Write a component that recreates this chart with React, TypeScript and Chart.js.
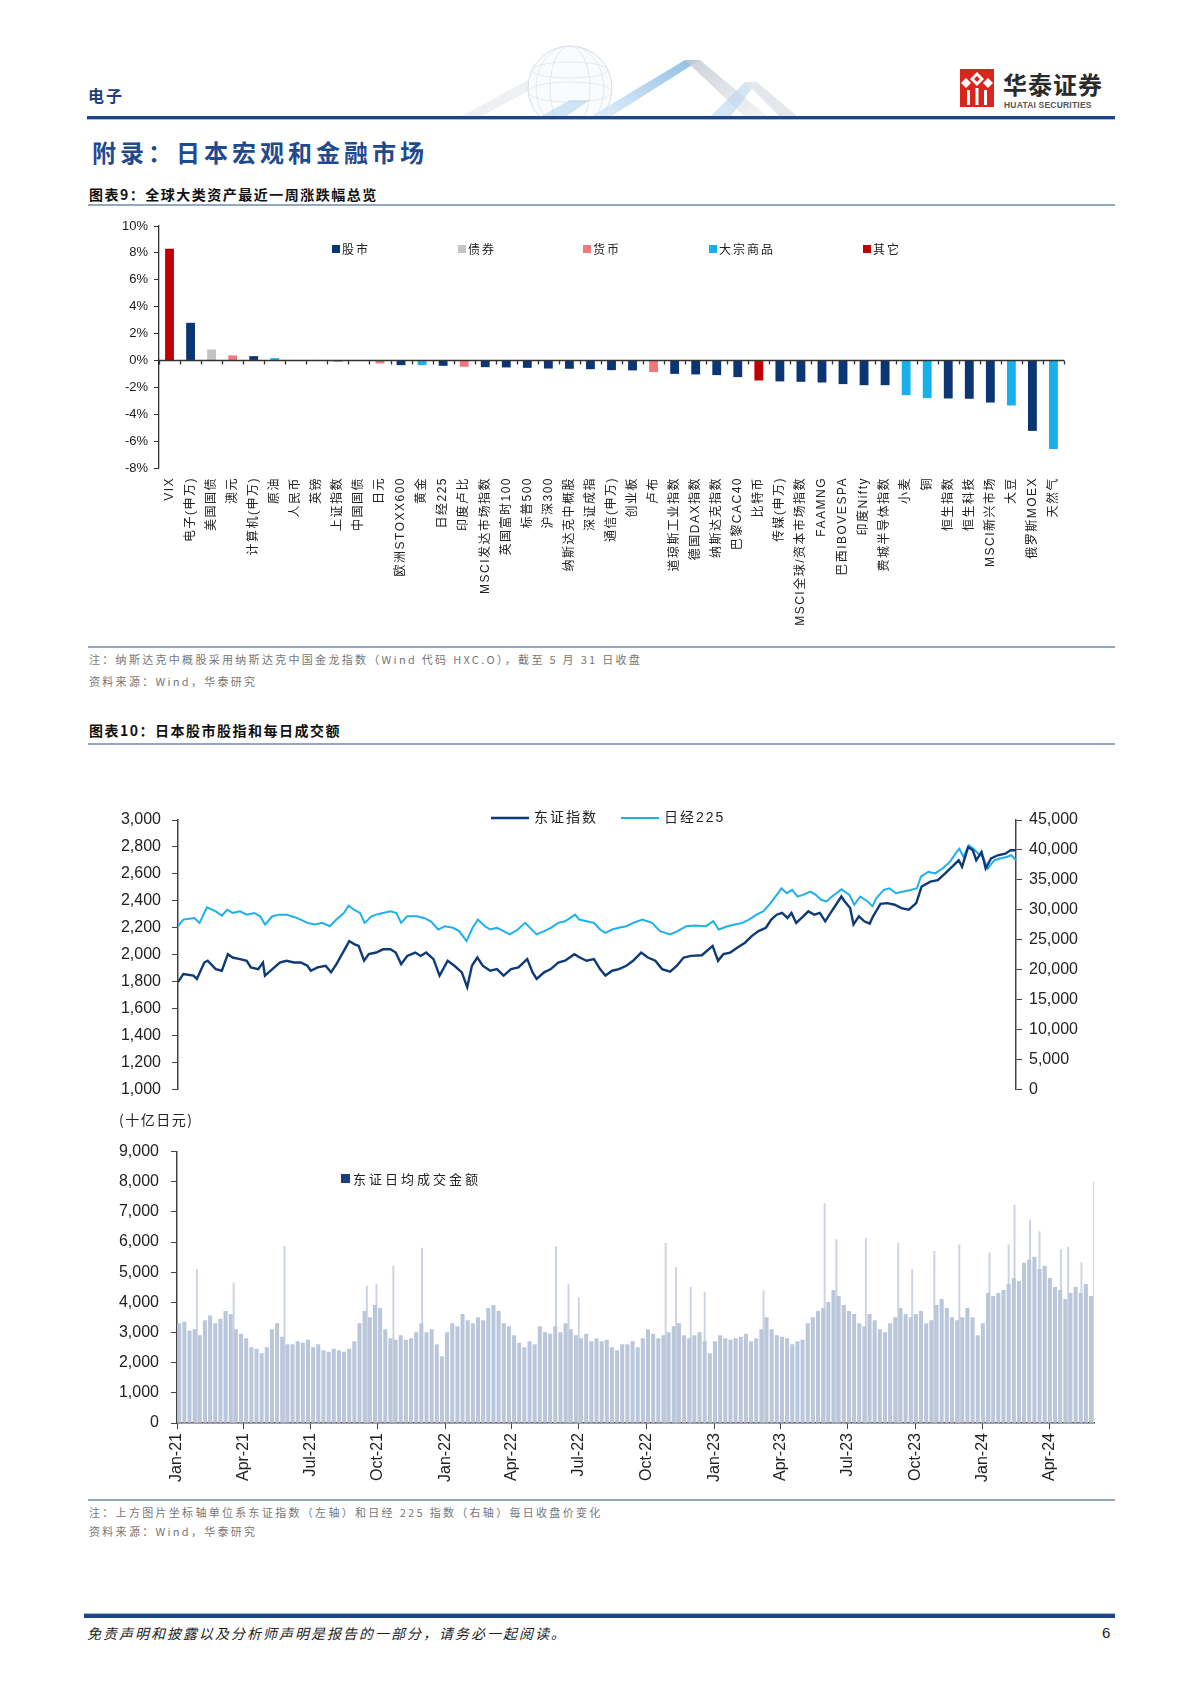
import React, { useEffect, useRef } from "react";
import { Chart, registerables } from "chart.js";

Chart.register(...registerables);

// ---------------- data ----------------
const ASSET_LABELS = [
  "VIX", "电子(申万)", "美国国债", "澳元", "计算机(申万)", "原油", "人民币", "英镑", "上证指数", "中国国债",
  "日元", "欧洲STOXX600", "黄金", "日经225", "印度卢比", "MSCI发达市场指数", "英国富时100", "标普500", "沪深300", "纳斯达克中概股",
  "深证成指", "通信(申万)", "创业板", "卢布", "道琼斯工业指数", "德国DAX指数", "纳斯达克指数", "巴黎CAC40", "比特币", "传媒(申万)",
  "MSCI全球/资本市场指数", "FAAMNG", "巴西IBOVESPA", "印度Nifty", "费城半导体指数", "小麦", "铜", "恒生指数", "恒生科技", "MSCI新兴市场",
  "大豆", "俄罗斯MOEX", "天然气",
];
const ASSET_CHANGES = [
  8.3, 2.8, 0.82, 0.37, 0.32, 0.17, 0.03, 0.02, -0.07, -0.05,
  -0.22, -0.35, -0.35, -0.4, -0.47, -0.5, -0.52, -0.55, -0.6, -0.62,
  -0.65, -0.72, -0.74, -0.87, -1.0, -1.04, -1.09, -1.24, -1.49, -1.56,
  -1.59, -1.64, -1.76, -1.84, -1.84, -2.58, -2.8, -2.83, -2.85, -3.13,
  -3.35, -5.24, -6.58,
];
const ASSET_CLASS = [
  "其它", "股市", "债券", "货币", "股市", "大宗商品", "货币", "货币", "股市", "债券",
  "货币", "股市", "大宗商品", "股市", "货币", "股市", "股市", "股市", "股市", "股市",
  "股市", "股市", "股市", "货币", "股市", "股市", "股市", "股市", "其它", "股市",
  "股市", "股市", "股市", "股市", "股市", "大宗商品", "大宗商品", "股市", "股市", "股市",
  "大宗商品", "股市", "大宗商品",
];
const CLASS_NAMES = ["股市", "债券", "货币", "大宗商品", "其它"];

const TOPIX_CLOSE: [string, number][] = [
  ["2021-01-04", 1796], ["2021-01-12", 1857], ["2021-01-27", 1845], ["2021-02-01", 1820], ["2021-02-12", 1942],
  ["2021-02-17", 1955], ["2021-03-01", 1893], ["2021-03-10", 1881], ["2021-03-19", 2004], ["2021-03-26", 1979],
  ["2021-04-06", 1967], ["2021-04-16", 1955], ["2021-04-22", 1906], ["2021-05-03", 1893], ["2021-05-10", 1942],
  ["2021-05-13", 1845], ["2021-05-24", 1893], ["2021-06-04", 1942], ["2021-06-14", 1955], ["2021-06-25", 1942],
  ["2021-07-05", 1942], ["2021-07-15", 1918], ["2021-07-20", 1881], ["2021-07-30", 1906], ["2021-08-11", 1918],
  ["2021-08-19", 1869], ["2021-08-27", 1930], ["2021-09-07", 2028], ["2021-09-15", 2101], ["2021-09-23", 2077],
  ["2021-09-29", 2065], ["2021-10-07", 1955], ["2021-10-14", 2004], ["2021-10-25", 2016], ["2021-11-04", 2040],
  ["2021-11-15", 2040], ["2021-11-23", 2016], ["2021-12-01", 1930], ["2021-12-10", 1991], ["2021-12-22", 2016],
  ["2021-12-30", 1991], ["2022-01-07", 2016], ["2022-01-18", 1967], ["2022-01-27", 1845], ["2022-02-08", 1955],
  ["2022-02-18", 1918], ["2022-03-01", 1869], ["2022-03-09", 1759], ["2022-03-16", 1918], ["2022-03-24", 1979],
  ["2022-04-01", 1918], ["2022-04-12", 1881], ["2022-04-22", 1893], ["2022-05-02", 1845], ["2022-05-13", 1893],
  ["2022-05-24", 1906], ["2022-06-06", 1967], ["2022-06-14", 1869], ["2022-06-20", 1820], ["2022-07-01", 1869],
  ["2022-07-11", 1893], ["2022-07-22", 1942], ["2022-08-01", 1955], ["2022-08-15", 2004], ["2022-08-23", 1979],
  ["2022-09-02", 1955], ["2022-09-13", 1967], ["2022-09-22", 1893], ["2022-09-30", 1845], ["2022-10-10", 1881],
  ["2022-10-20", 1893], ["2022-10-31", 1918], ["2022-11-10", 1955], ["2022-11-22", 2016], ["2022-12-02", 1979],
  ["2022-12-13", 1955], ["2022-12-23", 1893], ["2023-01-04", 1874], ["2023-01-14", 1918], ["2023-01-24", 1979],
  ["2023-02-04", 1991], ["2023-02-20", 1996], ["2023-03-08", 2065], ["2023-03-16", 1955], ["2023-03-24", 2004],
  ["2023-04-03", 2016], ["2023-04-14", 2053], ["2023-04-25", 2089], ["2023-05-05", 2138], ["2023-05-15", 2175],
  ["2023-05-26", 2200], ["2023-06-03", 2261], ["2023-06-11", 2297], ["2023-06-19", 2310], ["2023-06-27", 2273],
  ["2023-07-03", 2310], ["2023-07-10", 2236], ["2023-07-18", 2273], ["2023-07-28", 2322], ["2023-08-06", 2297],
  ["2023-08-14", 2310], ["2023-08-22", 2248], ["2023-08-30", 2310], ["2023-09-07", 2371], ["2023-09-15", 2432],
  ["2023-09-20", 2395], ["2023-09-28", 2346], ["2023-10-03", 2224], ["2023-10-11", 2285], ["2023-10-19", 2248],
  ["2023-10-27", 2231], ["2023-11-01", 2285], ["2023-11-12", 2378], ["2023-11-22", 2383], ["2023-12-03", 2371],
  ["2023-12-13", 2346], ["2023-12-24", 2334], ["2024-01-04", 2383], ["2024-01-12", 2506], ["2024-01-25", 2542],
  ["2024-02-05", 2554], ["2024-02-16", 2603], ["2024-02-26", 2652], ["2024-03-07", 2701], ["2024-03-12", 2652],
  ["2024-03-21", 2799], ["2024-03-28", 2775], ["2024-04-02", 2701], ["2024-04-10", 2763], ["2024-04-16", 2640],
  ["2024-04-24", 2714], ["2024-05-04", 2738], ["2024-05-15", 2750], ["2024-05-23", 2775], ["2024-05-31", 2775],
];

const NIKKEI_CLOSE: [string, number][] = [
  ["2021-01-04", 27264], ["2021-01-12", 28370], ["2021-01-28", 28640], ["2021-02-05", 27810], ["2021-02-12", 29470],
  ["2021-02-16", 30400], ["2021-03-01", 29740], ["2021-03-10", 29030], ["2021-03-18", 30010], ["2021-03-26", 29470],
  ["2021-04-06", 29740], ["2021-04-16", 29190], ["2021-04-27", 29470], ["2021-05-06", 28920], ["2021-05-13", 27540],
  ["2021-05-24", 28920], ["2021-06-03", 29190], ["2021-06-14", 29190], ["2021-06-25", 28810], ["2021-07-05", 28370],
  ["2021-07-15", 27820], ["2021-07-26", 27540], ["2021-08-06", 27820], ["2021-08-17", 27260], ["2021-08-27", 28370],
  ["2021-09-07", 29470], ["2021-09-14", 30680], ["2021-09-22", 30010], ["2021-10-01", 29470], ["2021-10-08", 27820],
  ["2021-10-18", 28920], ["2021-10-25", 29190], ["2021-11-04", 29470], ["2021-11-15", 29740], ["2021-11-24", 29470],
  ["2021-12-01", 27820], ["2021-12-10", 28920], ["2021-12-24", 28920], ["2022-01-04", 28640], ["2022-01-14", 28090],
  ["2022-01-25", 26710], ["2022-02-04", 27260], ["2022-02-16", 26990], ["2022-02-25", 26440], ["2022-03-08", 24780],
  ["2022-03-17", 26990], ["2022-03-25", 28370], ["2022-04-04", 27260], ["2022-04-12", 26710], ["2022-04-22", 26990],
  ["2022-05-02", 26440], ["2022-05-11", 25890], ["2022-05-23", 26710], ["2022-06-03", 27820], ["2022-06-15", 26440],
  ["2022-06-20", 25890], ["2022-07-01", 26440], ["2022-07-11", 26990], ["2022-07-22", 27820], ["2022-08-01", 28090],
  ["2022-08-16", 29190], ["2022-08-22", 28370], ["2022-09-02", 28090], ["2022-09-13", 27820], ["2022-09-22", 26710],
  ["2022-09-30", 26160], ["2022-10-10", 26710], ["2022-10-20", 26990], ["2022-10-31", 27260], ["2022-11-10", 27820],
  ["2022-11-24", 28370], ["2022-12-08", 27820], ["2022-12-20", 26440], ["2023-01-04", 25890], ["2023-01-15", 26440],
  ["2023-01-28", 27260], ["2023-02-10", 27370], ["2023-02-26", 27260], ["2023-03-09", 28090], ["2023-03-17", 26710],
  ["2023-03-30", 27260], ["2023-04-10", 27540], ["2023-04-21", 27820], ["2023-05-01", 28370], ["2023-05-12", 29190],
  ["2023-05-22", 29740], ["2023-06-02", 31120], ["2023-06-13", 32770], ["2023-06-18", 33600], ["2023-06-26", 32770],
  ["2023-07-04", 33320], ["2023-07-12", 32220], ["2023-07-20", 32500], ["2023-07-31", 33050], ["2023-08-08", 32500],
  ["2023-08-16", 31670], ["2023-08-24", 31400], ["2023-09-01", 32220], ["2023-09-11", 33050], ["2023-09-15", 33430],
  ["2023-09-27", 32500], ["2023-10-04", 30840], ["2023-10-13", 32220], ["2023-10-24", 31400], ["2023-10-31", 30570],
  ["2023-11-06", 31950], ["2023-11-17", 33320], ["2023-11-25", 33600], ["2023-12-05", 32770], ["2023-12-16", 33050],
  ["2023-12-27", 33320], ["2024-01-05", 33600], ["2024-01-11", 35530], ["2024-01-22", 36350], ["2024-02-01", 36080],
  ["2024-02-12", 36900], ["2024-02-23", 38000], ["2024-03-04", 39660], ["2024-03-08", 40200], ["2024-03-14", 38830],
  ["2024-03-22", 40760], ["2024-03-29", 40200], ["2024-04-05", 39380], ["2024-04-12", 38830], ["2024-04-19", 36900],
  ["2024-04-29", 38280], ["2024-05-07", 38560], ["2024-05-17", 38830], ["2024-05-24", 39110], ["2024-05-31", 38280],
];

// weekly typical turnover (billion yen)
const TURNOVER_WEEKLY: [string, number][] = [
  ["2021-01-04", 3300], ["2021-01-11", 3350], ["2021-01-18", 3050], ["2021-01-25", 3100],
  ["2021-02-01", 2900], ["2021-02-08", 3400], ["2021-02-15", 3550], ["2021-02-22", 3300],
  ["2021-03-01", 3450], ["2021-03-08", 3700], ["2021-03-15", 3600], ["2021-03-22", 3100], ["2021-03-29", 2950],
  ["2021-04-05", 2800], ["2021-04-12", 2500], ["2021-04-19", 2450], ["2021-04-26", 2300],
  ["2021-05-03", 2500], ["2021-05-10", 3100], ["2021-05-17", 3300], ["2021-05-24", 2850], ["2021-05-31", 2600],
  ["2021-06-07", 2600], ["2021-06-14", 2700], ["2021-06-21", 2650], ["2021-06-28", 2750],
  ["2021-07-05", 2500], ["2021-07-12", 2600], ["2021-07-19", 2400], ["2021-07-26", 2350],
  ["2021-08-02", 2450], ["2021-08-09", 2400], ["2021-08-16", 2350], ["2021-08-23", 2450], ["2021-08-30", 2700],
  ["2021-09-06", 3300], ["2021-09-13", 3700], ["2021-09-20", 3500], ["2021-09-27", 3900],
  ["2021-10-04", 3800], ["2021-10-11", 3100], ["2021-10-18", 2800], ["2021-10-25", 2750],
  ["2021-11-01", 2900], ["2021-11-08", 2750], ["2021-11-15", 2800], ["2021-11-22", 3000], ["2021-11-29", 3300],
  ["2021-12-06", 3000], ["2021-12-13", 3100], ["2021-12-20", 2600], ["2021-12-27", 2200],
  ["2022-01-03", 3000], ["2022-01-10", 3300], ["2022-01-17", 3200], ["2022-01-24", 3600], ["2022-01-31", 3400],
  ["2022-02-07", 3300], ["2022-02-14", 3500], ["2022-02-21", 3400], ["2022-02-28", 3800],
  ["2022-03-07", 3900], ["2022-03-14", 3700], ["2022-03-21", 3300], ["2022-03-28", 3200],
  ["2022-04-04", 2900], ["2022-04-11", 2650], ["2022-04-18", 2500], ["2022-04-25", 2700],
  ["2022-05-02", 2600], ["2022-05-09", 3200], ["2022-05-16", 3000], ["2022-05-23", 2950], ["2022-05-30", 3200],
  ["2022-06-06", 3000], ["2022-06-13", 3300], ["2022-06-20", 3100], ["2022-06-27", 2900],
  ["2022-07-04", 2800], ["2022-07-11", 2950], ["2022-07-18", 2700], ["2022-07-25", 2800],
  ["2022-08-01", 2700], ["2022-08-08", 2750], ["2022-08-15", 2500], ["2022-08-22", 2400], ["2022-08-29", 2600],
  ["2022-09-05", 2600], ["2022-09-12", 2700], ["2022-09-19", 2500], ["2022-09-26", 2800],
  ["2022-10-03", 3100], ["2022-10-10", 2950], ["2022-10-17", 2800], ["2022-10-24", 2900], ["2022-10-31", 3000],
  ["2022-11-07", 3200], ["2022-11-14", 3300], ["2022-11-21", 2900], ["2022-11-28", 2800],
  ["2022-12-05", 2900], ["2022-12-12", 3000], ["2022-12-19", 2700], ["2022-12-26", 2300],
  ["2023-01-02", 2700], ["2023-01-09", 2900], ["2023-01-16", 2800], ["2023-01-23", 2750], ["2023-01-30", 2800],
  ["2023-02-06", 2850], ["2023-02-13", 2950], ["2023-02-20", 2700], ["2023-02-27", 2800],
  ["2023-03-06", 3100], ["2023-03-13", 3500], ["2023-03-20", 3100], ["2023-03-27", 2900],
  ["2023-04-03", 2850], ["2023-04-10", 2800], ["2023-04-17", 2600], ["2023-04-24", 2700],
  ["2023-05-01", 2750], ["2023-05-08", 3300], ["2023-05-15", 3500], ["2023-05-22", 3700], ["2023-05-29", 3800],
  ["2023-06-05", 4000], ["2023-06-12", 4400], ["2023-06-19", 4200], ["2023-06-26", 3900],
  ["2023-07-03", 3700], ["2023-07-10", 3600], ["2023-07-17", 3300], ["2023-07-24", 3200], ["2023-07-31", 3600],
  ["2023-08-07", 3400], ["2023-08-14", 3100], ["2023-08-21", 3000], ["2023-08-28", 3300],
  ["2023-09-04", 3500], ["2023-09-11", 3800], ["2023-09-18", 3600], ["2023-09-25", 3500],
  ["2023-10-02", 3600], ["2023-10-09", 3700], ["2023-10-16", 3300], ["2023-10-23", 3400], ["2023-10-30", 3900],
  ["2023-11-06", 4100], ["2023-11-13", 3800], ["2023-11-20", 3500], ["2023-11-27", 3400],
  ["2023-12-04", 3500], ["2023-12-11", 3800], ["2023-12-18", 3500], ["2023-12-25", 2900],
  ["2024-01-01", 3300], ["2024-01-08", 4300], ["2024-01-15", 4200], ["2024-01-22", 4300], ["2024-01-29", 4400],
  ["2024-02-05", 4600], ["2024-02-12", 4800], ["2024-02-19", 4700], ["2024-02-26", 5300],
  ["2024-03-04", 5400], ["2024-03-11", 5500], ["2024-03-18", 5100], ["2024-03-25", 5200],
  ["2024-04-01", 4800], ["2024-04-08", 4500], ["2024-04-15", 4400], ["2024-04-22", 4100], ["2024-04-29", 4300],
  ["2024-05-06", 4500], ["2024-05-13", 4300], ["2024-05-20", 4600], ["2024-05-27", 4200],
];

// single-day turnover spikes visible above the weekly band
const TURNOVER_SPIKES: [string, number][] = [
  ["2021-01-28", 5100], ["2021-03-19", 4650], ["2021-05-27", 5860], ["2021-09-16", 4540], ["2021-09-29", 4600],
  ["2021-10-22", 5200], ["2021-11-30", 5800], ["2022-05-31", 5860], ["2022-06-17", 4600], ["2022-07-01", 4160],
  ["2022-10-27", 5970], ["2022-11-10", 5150], ["2022-11-30", 4500], ["2022-12-19", 4330], ["2023-03-09", 4380],
  ["2023-05-31", 7280], ["2023-06-16", 6080], ["2023-07-26", 6130], ["2023-09-08", 5970], ["2023-09-27", 5090],
  ["2023-10-27", 5690], ["2023-11-30", 5910], ["2024-01-10", 5640], ["2024-02-05", 5910], ["2024-02-13", 7230],
  ["2024-03-05", 6730], ["2024-03-18", 6350], ["2024-04-16", 5750], ["2024-04-26", 5830], ["2024-05-14", 5310],
  ["2024-05-31", 7990],
];

const QUARTER_TICKS = [
  "2021-01-01", "2021-04-01", "2021-07-01", "2021-10-01", "2022-01-01", "2022-04-01", "2022-07-01",
  "2022-10-01", "2023-01-01", "2023-04-01", "2023-07-01", "2023-10-01", "2024-01-01", "2024-04-01",
];
const QUARTER_LABELS = [
  "Jan-21", "Apr-21", "Jul-21", "Oct-21", "Jan-22", "Apr-22", "Jul-22",
  "Oct-22", "Jan-23", "Apr-23", "Jul-23", "Oct-23", "Jan-24", "Apr-24",
];

// ---------------- styles ----------------
const FONT = "'Liberation Sans', 'Noto Sans CJK SC', sans-serif";
const CJK = "'Noto Sans CJK SC', sans-serif";
const CLASS_COLORS: Record<string, string> = {
  "股市": "#0c3673",
  "债券": "#c4c4c4",
  "货币": "#f3777d",
  "大宗商品": "#17b0ea",
  "其它": "#c00000",
};
const NAVY = "#0f3a78";
const CYAN = "#1fb0ea";
const AXIS = "#444";

const EPOCH = Date.UTC(2021, 0, 1);
const toDay = (s: string) => (Date.parse(s + "T00:00:00Z") - EPOCH) / 86400000;
const fmtNum = (v: any) => Number(v).toLocaleString("en-US");

// ---------------- chart 1 ----------------
function AssetChart() {
  const ref = useRef<HTMLCanvasElement>(null);
  useEffect(() => {
    const legendOffsets = [173, 299, 424, 550, 704];
    const zeroAxis = {
      id: "zeroAxis",
      afterDatasetsDraw(chart: any) {
        const { ctx, chartArea, scales } = chart;
        const x = scales.x, y = scales.y;
        const y0 = Math.round(y.getPixelForValue(0)) + 0.5;
        const w = x.getPixelForValue(1) - x.getPixelForValue(0);
        ctx.save();
        ctx.strokeStyle = "#333";
        ctx.lineWidth = 1.3;
        ctx.beginPath();
        ctx.moveTo(chartArea.left, y0);
        ctx.lineTo(chartArea.right, y0);
        for (let k = 0; k <= ASSET_LABELS.length; k++) {
          const xx = Math.round(x.getPixelForValue(k) - w / 2) + 0.5;
          ctx.moveTo(xx, y0);
          ctx.lineTo(xx, y0 + 4);
        }
        ctx.stroke();
        ctx.restore();
      },
      afterDraw(chart: any) {
        const { ctx, chartArea, scales } = chart;
        const x = scales.x;
        ctx.save();
        ctx.font = `12px ${FONT}`;
        ctx.fillStyle = "#222";
        ctx.letterSpacing = "1.5px";
        ctx.textAlign = "right";
        ctx.textBaseline = "middle";
        ASSET_LABELS.forEach((lab, i) => {
          ctx.save();
          ctx.translate(x.getPixelForValue(i), chartArea.bottom + 9);
          ctx.rotate(-Math.PI / 2);
          ctx.fillText(lab, 0, 0);
          ctx.restore();
        });
        ctx.font = `12px ${CJK}`;
        ctx.letterSpacing = "2px";
        ctx.textAlign = "left";
        CLASS_NAMES.forEach((cls, i) => {
          const lx = chartArea.left + legendOffsets[i];
          const ly = chartArea.top + 23;
          ctx.fillStyle = CLASS_COLORS[cls];
          ctx.fillRect(lx, ly - 4, 8, 8);
          ctx.fillStyle = "#222";
          ctx.fillText(cls, lx + 10, ly);
        });
        ctx.restore();
      },
    };
    const chart = new Chart(ref.current!, {
      type: "bar",
      data: {
        labels: ASSET_LABELS,
        datasets: CLASS_NAMES.map((cls) => ({
          label: cls,
          data: ASSET_CHANGES.map((v, i) => (ASSET_CLASS[i] === cls ? v : null)),
          backgroundColor: CLASS_COLORS[cls],
          grouped: false,
          categoryPercentage: 1,
          barPercentage: 0.42,
        })) as any,
      },
      options: {
        responsive: false,
        animation: false,
        layout: { padding: { top: 26, right: 56, left: 0, bottom: 0 } },
        plugins: { legend: { display: false }, tooltip: { enabled: false } },
        scales: {
          x: {
            type: "category",
            grid: { display: false },
            border: { display: false },
            ticks: { display: false },
            afterFit: (s: any) => { s.height = 177; },
          },
          y: {
            min: -8,
            max: 10,
            ticks: {
              stepSize: 2,
              callback: (v: any) => `${v}%`,
              font: { size: 13, family: FONT },
              color: "#1a1a1a",
              padding: 6,
            },
            grid: { drawOnChartArea: false, drawTicks: true, tickLength: 5, color: "#333" },
            border: { color: "#333", width: 1.3 },
            afterFit: (s: any) => { s.width = 99; },
          },
        },
      } as any,
      plugins: [zeroAxis],
    });
    return () => chart.destroy();
  }, []);
  return (
    <canvas ref={ref} width={1060} height={445}
      style={{ position: "absolute", left: 60, top: 200, width: 1060, height: 445 }} />
  );
}

// ---------------- chart 2 ----------------
function IndexChart() {
  const ref = useRef<HTMLCanvasElement>(null);
  useEffect(() => {
    const legend = {
      id: "idxLegend",
      afterDraw(chart: any) {
        const { ctx, chartArea } = chart;
        const ly = chartArea.top - 2;
        ctx.save();
        ctx.font = `14px ${FONT}`;
        ctx.letterSpacing = "2px";
        ctx.textBaseline = "middle";
        const items = [
          { x: 431, color: NAVY, w: 2.6, text: "东证指数" },
          { x: 561, color: CYAN, w: 2.2, text: "日经225" },
        ];
        items.forEach((it) => {
          ctx.strokeStyle = it.color;
          ctx.lineWidth = it.w;
          ctx.beginPath();
          ctx.moveTo(it.x, ly);
          ctx.lineTo(it.x + 38, ly);
          ctx.stroke();
          ctx.fillStyle = "#222";
          ctx.fillText(it.text, it.x + 43, ly);
        });
        ctx.restore();
      },
    };
    const axisCommon = {
      grid: { drawOnChartArea: false, drawTicks: true, tickLength: 6, color: AXIS },
      border: { color: AXIS, width: 1.5 },
    };
    const chart = new Chart(ref.current!, {
      type: "line",
      data: {
        datasets: [
          {
            label: "东证指数",
            data: TOPIX_CLOSE.map(([d, v]) => ({ x: toDay(d), y: v })),
            yAxisID: "y",
            borderColor: NAVY,
            borderWidth: 2.4,
            pointRadius: 0,
            tension: 0,
          },
          {
            label: "日经225",
            data: NIKKEI_CLOSE.map(([d, v]) => ({ x: toDay(d), y: v })),
            yAxisID: "y1",
            borderColor: CYAN,
            borderWidth: 2,
            pointRadius: 0,
            tension: 0,
          },
        ],
      },
      options: {
        responsive: false,
        animation: false,
        layout: { padding: { top: 30, bottom: 18, left: 0, right: 0 } },
        plugins: { legend: { display: false }, tooltip: { enabled: false } },
        scales: {
          x: {
            type: "linear",
            display: false,
            min: toDay(TOPIX_CLOSE[0][0]),
            max: toDay(TOPIX_CLOSE[TOPIX_CLOSE.length - 1][0]),
          },
          y: {
            position: "left",
            min: 1000,
            max: 3000,
            ticks: { stepSize: 200, callback: fmtNum, font: { size: 16, family: FONT }, color: "#222", padding: 11 },
            ...axisCommon,
            afterFit: (s: any) => { s.width = 118; },
          },
          y1: {
            position: "right",
            min: 0,
            max: 45000,
            ticks: { stepSize: 5000, callback: fmtNum, font: { size: 16, family: FONT }, color: "#222", padding: 7 },
            ...axisCommon,
            afterFit: (s: any) => { s.width = 124; },
          },
        },
      } as any,
      plugins: [legend],
    });
    return () => chart.destroy();
  }, []);
  return (
    <canvas ref={ref} width={1080} height={320}
      style={{ position: "absolute", left: 60, top: 790, width: 1080, height: 320 }} />
  );
}

// ---------------- chart 3 ----------------
function TurnoverChart() {
  const ref = useRef<HTMLCanvasElement>(null);
  useEffect(() => {
    const legend = {
      id: "toLegend",
      afterDraw(chart: any) {
        const { ctx } = chart;
        ctx.save();
        ctx.fillStyle = "#1b3f7e";
        ctx.fillRect(281, 44, 9, 9);
        ctx.font = `13px ${CJK}`;
        ctx.letterSpacing = "3px";
        ctx.textBaseline = "middle";
        ctx.fillStyle = "#222";
        ctx.fillText("东证日均成交金额", 293, 49);
        ctx.restore();
      },
    };
    const chart = new Chart(ref.current!, {
      type: "bar",
      data: {
        datasets: [
          {
            label: "东证日均成交金额",
            data: TURNOVER_WEEKLY.map(([d, v]) => ({ x: toDay(d), y: v })),
            backgroundColor: "#bac7da",
            barThickness: 3.4,
            grouped: false,
          },
          {
            label: "单日",
            data: TURNOVER_SPIKES.map(([d, v]) => ({ x: toDay(d), y: v })),
            backgroundColor: "#cbd4e1",
            barThickness: 1.3,
            grouped: false,
          },
        ],
      },
      options: {
        responsive: false,
        animation: false,
        layout: { padding: { top: 19, right: 46, left: 0, bottom: 0 } },
        plugins: { legend: { display: false }, tooltip: { enabled: false } },
        scales: {
          x: {
            type: "linear",
            offset: false,
            min: toDay(QUARTER_TICKS[0]),
            max: toDay(TURNOVER_SPIKES[TURNOVER_SPIKES.length - 1][0]),
            grid: { display: true, offset: false, drawOnChartArea: false, drawTicks: true, tickLength: 6, color: AXIS },
            border: { color: AXIS, width: 1.5 },
            ticks: {
              autoSkip: false,
              minRotation: 90,
              maxRotation: 90,
              padding: 4,
              font: { size: 16, family: FONT },
              color: "#222",
              callback: (_v: any, i: number) => QUARTER_LABELS[i],
            },
            afterBuildTicks: (s: any) => { s.ticks = QUARTER_TICKS.map((d) => ({ value: toDay(d) })); },
            afterFit: (s: any) => { s.height = 77; },
          },
          y: {
            min: 0,
            max: 9000,
            ticks: { stepSize: 1000, callback: fmtNum, font: { size: 16, family: FONT }, color: "#222", padding: 12 },
            grid: { drawOnChartArea: false, drawTicks: true, tickLength: 6, color: AXIS },
            border: { color: AXIS, width: 1.5 },
            afterFit: (s: any) => { s.width = 117; },
          },
        },
      } as any,
      plugins: [legend],
    });
    return () => chart.destroy();
  }, []);
  return (
    <canvas ref={ref} width={1080} height={370}
      style={{ position: "absolute", left: 60, top: 1130, width: 1080, height: 370 }} />
  );
}

// ---------------- page ----------------
function T(props: { x: number; y: number; size: number; children: any; style?: any }) {
  const { x, y, size, children, style } = props;
  return (
    <div style={{
      position: "absolute", left: x, top: y - size * 0.75, fontSize: size,
      lineHeight: `${size * 1.5}px`, whiteSpace: "nowrap", fontFamily: FONT, color: "#222", ...style,
    }}>{children}</div>
  );
}

function Rule(props: { y: number; h: number; color: string; x?: number; w?: number }) {
  const { y, h, color, x = 88, w = 1027 } = props;
  return <div style={{ position: "absolute", left: x, top: y, width: w, height: h, background: color }} />;
}

function HeaderArt() {
  return (
    <svg width={420} height={80} style={{ position: "absolute", left: 440, top: 38 }}>
      <defs>
        <linearGradient id="blueBand" x1="0" y1="1" x2="1" y2="0">
          <stop offset="0%" stopColor="#d9ecf8" />
          <stop offset="100%" stopColor="#6aa8da" />
        </linearGradient>
        <linearGradient id="grayBand" x1="0" y1="0" x2="1" y2="1">
          <stop offset="0%" stopColor="#c3cad2" />
          <stop offset="100%" stopColor="#f1f3f5" />
        </linearGradient>
        <clipPath id="clipTop"><rect x="0" y="0" width="420" height="79" /></clipPath>
      </defs>
      <g clipPath="url(#clipTop)">
        <polygon points="20,79 95,38 105,44 40,79" fill="#eef1f4" />
        <circle cx="130" cy="50" r="42" fill="#fafbfc" stroke="#d6dde6" strokeWidth="1" />
        <ellipse cx="130" cy="50" rx="20" ry="42" fill="none" stroke="#dde3ea" strokeWidth="0.8" />
        <ellipse cx="130" cy="50" rx="34" ry="42" fill="none" stroke="#e1e6ec" strokeWidth="0.8" />
        <ellipse cx="130" cy="32" rx="38" ry="8" fill="none" stroke="#e1e6ec" strokeWidth="0.8" />
        <ellipse cx="130" cy="54" rx="42" ry="10" fill="none" stroke="#e1e6ec" strokeWidth="0.8" />
        <polygon points="150,79 245,22 260,22 170,79" fill="url(#blueBand)" opacity="0.75" />
        <polygon points="245,22 260,22 328,79 305,79" fill="url(#grayBand)" opacity="0.85" />
        <polygon points="270,79 305,44 317,44 290,79" fill="#b7d3ec" opacity="0.6" />
        <polygon points="305,44 317,44 358,79 340,79" fill="#e4e8ed" />
        <polygon points="100,79 130,62 150,62 125,79" fill="#a3cdee" opacity="0.5" />
      </g>
    </svg>
  );
}

function Logo() {
  return (
    <>
      <svg width={34} height={38} style={{ position: "absolute", left: 960, top: 69 }}>
        <rect width="34" height="38" fill="#d8261d" />
        <path d="M17 3 L24 10 L17 17 L10 10 Z" fill="#fff" />
        <path d="M6 9 L11 14 L6 19 L1 14 Z" fill="#fff" />
        <path d="M28 9 L33 14 L28 19 L23 14 Z" fill="#fff" />
        <path d="M17 7 L20 10 L17 13 L14 10 Z" fill="#d8261d" />
        <rect x="7" y="21" width="3" height="15" fill="#fff" />
        <rect x="15.5" y="19" width="3" height="17" fill="#fff" />
        <rect x="24" y="21" width="3" height="15" fill="#fff" />
      </svg>
      <T x={1003} y={84} size={24} style={{ fontFamily: CJK, fontWeight: 700, color: "#2a2a2a", letterSpacing: 1 }}>华泰证券</T>
      <T x={1004} y={105} size={8.5} style={{ fontWeight: 700, color: "#555", letterSpacing: 0.2 }}>HUATAI SECURITIES</T>
    </>
  );
}

export default function App() {
  const noteStyle = { fontFamily: CJK, color: "#777", letterSpacing: 2.3 };
  return (
    <div style={{
      position: "absolute", left: 0, top: 0, width: 1200, height: 1698, background: "#fff",
      overflow: "hidden", fontFamily: FONT,
    }}>
      <HeaderArt />
      <Logo />
      <T x={88} y={95} size={16} style={{ fontFamily: CJK, fontWeight: 700, color: "#1f3f80", letterSpacing: 2 }}>电子</T>
      <Rule y={116} h={3} color="#1e4585" x={87} w={1028} />
      <Rule y={119} h={1} color="#a9bad3" x={87} w={1028} />

      <T x={92} y={152} size={24} style={{ fontFamily: CJK, fontWeight: 700, color: "#1f4a8f", letterSpacing: 4 }}>
        附录：日本宏观和金融市场
      </T>
      <T x={89} y={194} size={14} style={{ fontFamily: CJK, fontWeight: 700, color: "#111", letterSpacing: 1.5 }}>
        图表9：全球大类资产最近一周涨跌幅总览
      </T>
      <Rule y={204} h={2} color="#94a7c1" />

      <AssetChart />

      <Rule y={646} h={2} color="#94a7c1" />
      <T x={89} y={659} size={11} style={noteStyle}>
        注：纳斯达克中概股采用纳斯达克中国金龙指数（Wind 代码 HXC.O），截至 5 月 31 日收盘
      </T>
      <T x={89} y={681} size={11} style={noteStyle}>资料来源：Wind，华泰研究</T>

      <T x={89} y={730} size={14} style={{ fontFamily: CJK, fontWeight: 700, color: "#111", letterSpacing: 1.5 }}>
        图表10：日本股市股指和每日成交额
      </T>
      <Rule y={743} h={2} color="#94a7c1" />

      <IndexChart />

      <T x={119} y={1119} size={14} style={{ fontFamily: CJK, color: "#222", letterSpacing: 1.5 }}>(十亿日元)</T>

      <TurnoverChart />

      <Rule y={1499} h={2} color="#94a7c1" />
      <T x={89} y={1512} size={11} style={noteStyle}>
        注：上方图片坐标轴单位系东证指数（左轴）和日经 225 指数（右轴）每日收盘价变化
      </T>
      <T x={89} y={1531} size={11} style={noteStyle}>资料来源：Wind，华泰研究</T>

      <Rule y={1613} h={1} color="#a9bad3" x={84} w={1031} />
      <Rule y={1614} h={4} color="#1e4585" x={84} w={1031} />
      <T x={87} y={1633} size={14} style={{ fontFamily: CJK, fontStyle: "italic", color: "#222", letterSpacing: 2 }}>
        免责声明和披露以及分析师声明是报告的一部分，请务必一起阅读。
      </T>
      <T x={1102} y={1633} size={15} style={{ color: "#222" }}>6</T>
    </div>
  );
}
